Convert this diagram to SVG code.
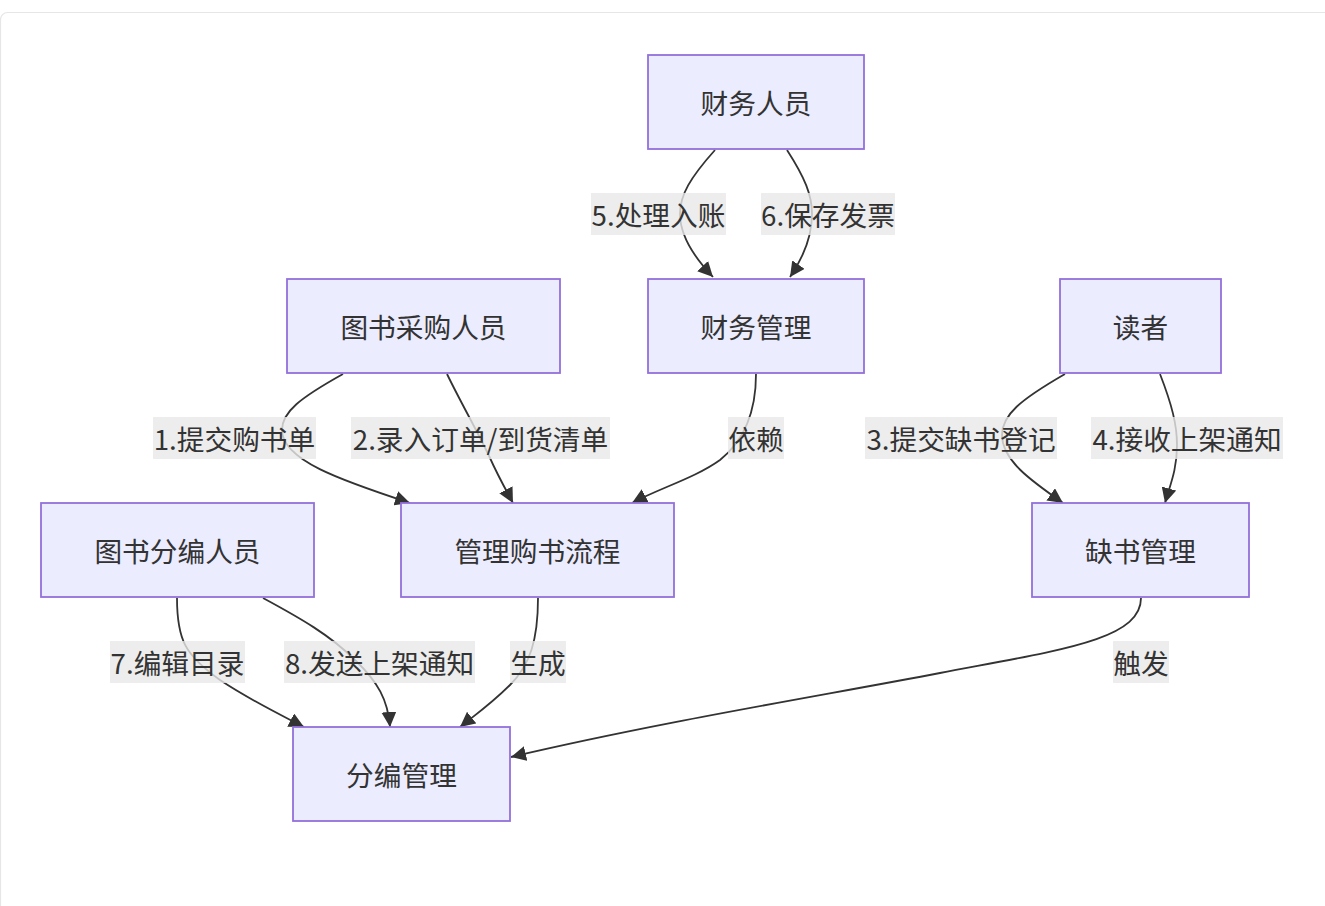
<svg xmlns="http://www.w3.org/2000/svg" width="1325" height="906" viewBox="0 0 1325 906">
<style>
.node rect{fill:#ECECFF;stroke:#9370DB;stroke-width:1.8}
.node text{font-family:"Noto Sans CJK SC","Noto Sans",sans-serif;font-size:27.7px;fill:#333;text-anchor:middle;dominant-baseline:central}
.edge{fill:none;stroke:#333;stroke-width:1.8}
.lbl rect{fill:#e8e8e8;fill-opacity:0.8}
.lbl text{font-family:"Noto Sans CJK SC","Noto Sans",sans-serif;font-size:27.7px;fill:#333;text-anchor:middle;dominant-baseline:central}
</style>
<defs>
<marker id="arr" viewBox="0 0 10 10" refX="10" refY="5" markerUnits="userSpaceOnUse" markerWidth="15" markerHeight="15" orient="auto">
<path d="M0,0 L10,5 L0,10 z" fill="#333"/>
</marker>
</defs>
<rect x="0.5" y="12.5" width="1400" height="1000" rx="7" fill="#fff" stroke="#e6e6e6" stroke-width="1.2"/>
<g id="connectors">
<path class="edge" marker-end="url(#arr)" d="M715,150 C690,178 680,195 680,214 C680,235 692,255 713,277"/>
<path class="edge" marker-end="url(#arr)" d="M787,150 C805,178 812,195 812,214 C812,235 805,255 790,277"/>
<path class="edge" marker-end="url(#arr)" d="M343,374 C300,398 282,412 282,430 C282,460 340,480 410,503"/>
<path class="edge" marker-end="url(#arr)" d="M447,374 C462,405 478,432 490,458 C498,476 506,490 513,503"/>
<path class="edge" marker-end="url(#arr)" d="M756,374 C756,410 745,440 720,460 C695,478 660,488 632,503"/>
<path class="edge" marker-end="url(#arr)" d="M1065,374 C1020,400 1002,415 1002,435 C1002,460 1030,480 1063,503"/>
<path class="edge" marker-end="url(#arr)" d="M1160,374 C1172,405 1177,425 1177,445 C1177,470 1170,485 1165,503"/>
<path class="edge" marker-end="url(#arr)" d="M177,598 C177,640 185,655 220,680 C250,700 275,712 304,727"/>
<path class="edge" marker-end="url(#arr)" d="M263,598 C300,618 330,635 355,660 C378,682 388,700 390,727"/>
<path class="edge" marker-end="url(#arr)" d="M538,598 C538,640 530,665 510,685 C490,705 475,715 460,727"/>
<path class="edge" marker-end="url(#arr)" d="M1141,598 C1141,640 1060,650 940,673 C820,696 660,722 511,757"/>
</g>
<g id="labels">
<g class="lbl"><rect x="591" y="193" width="135" height="42"/><text x="658.5" y="214">5.处理入账</text></g>
<g class="lbl"><rect x="761" y="193" width="134" height="42"/><text x="828" y="214">6.保存发票</text></g>
<g class="lbl"><rect x="153" y="417" width="163" height="42"/><text x="234.5" y="438">1.提交购书单</text></g>
<g class="lbl"><rect x="351" y="417" width="259" height="42"/><text x="480.5" y="438">2.录入订单/到货清单</text></g>
<g class="lbl"><rect x="728" y="417" width="56" height="42"/><text x="756" y="438">依赖</text></g>
<g class="lbl"><rect x="865" y="417" width="192" height="42"/><text x="961" y="438">3.提交缺书登记</text></g>
<g class="lbl"><rect x="1091" y="417" width="192" height="42"/><text x="1187" y="438">4.接收上架通知</text></g>
<g class="lbl"><rect x="110" y="641" width="135" height="42"/><text x="177.5" y="662">7.编辑目录</text></g>
<g class="lbl"><rect x="284" y="641" width="191" height="42"/><text x="379.5" y="662">8.发送上架通知</text></g>
<g class="lbl"><rect x="510" y="641" width="56" height="42"/><text x="538" y="662">生成</text></g>
<g class="lbl"><rect x="1113" y="641" width="56" height="42"/><text x="1141" y="662">触发</text></g>
</g>
<g id="n_caiwurenyuan" class="node"><rect x="648" y="55" width="216" height="94"/><text x="756" y="102">财务人员</text></g>
<g id="n_caiwuguanli" class="node"><rect x="648" y="279" width="216" height="94"/><text x="756" y="326">财务管理</text></g>
<g id="n_caigou" class="node"><rect x="287" y="279" width="273" height="94"/><text x="423.5" y="326">图书采购人员</text></g>
<g id="n_duzhe" class="node"><rect x="1060" y="279" width="161" height="94"/><text x="1140.5" y="326">读者</text></g>
<g id="n_fenbianrenyuan" class="node"><rect x="41" y="503" width="273" height="94"/><text x="177.5" y="550">图书分编人员</text></g>
<g id="n_goushu" class="node"><rect x="401" y="503" width="273" height="94"/><text x="537.5" y="550">管理购书流程</text></g>
<g id="n_queshu" class="node"><rect x="1032" y="503" width="217" height="94"/><text x="1140.5" y="550">缺书管理</text></g>
<g id="n_fenbian" class="node"><rect x="293" y="727" width="217" height="94"/><text x="401.5" y="774">分编管理</text></g>
</svg>
